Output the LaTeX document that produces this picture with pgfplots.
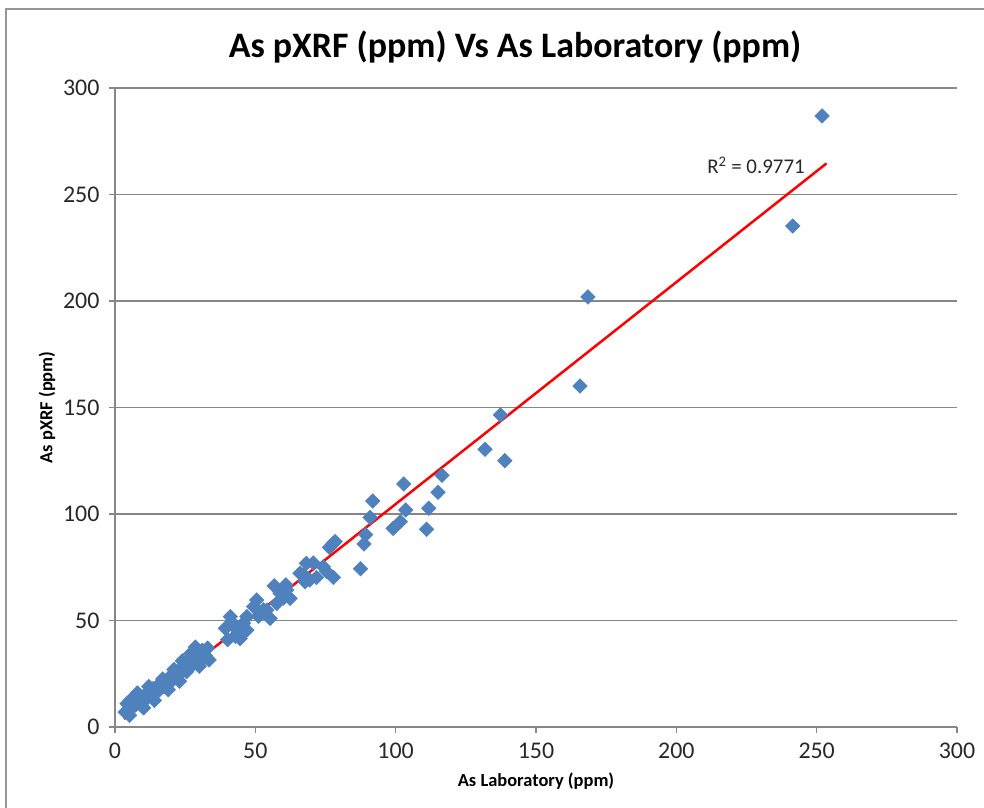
\documentclass[border=0pt]{standalone}
\usepackage{fontspec}
\setmainfont{Carlito}
\usepackage{pgfplots}
\pgfplotsset{compat=1.18}
\definecolor{xlblue}{RGB}{79,129,189}
\definecolor{xlgrid}{RGB}{134,134,134}
\definecolor{xlborder}{RGB}{150,150,150}
\definecolor{xltext}{RGB}{40,40,40}

\begin{document}
\begin{tikzpicture}[x=1bp,y=1bp]
\useasboundingbox (0,0) rectangle (984,808);
% chart border (only left and top edges fall inside the crop)
\draw[xlborder, line width=1.5bp] (6,-20) -- (6,799) -- (1000,799);
\node[font=\bfseries\fontsize{36}{42}\selectfont, text=black] at (515,761)
  {As pXRF (ppm) Vs As Laboratory (ppm)};
\begin{axis}[
    at={(115bp,81bp)}, anchor=south west,
    scale only axis, width=842bp, height=639bp,
    xmin=0, xmax=300, ymin=0, ymax=300,
    xtick={0,50,...,300}, ytick={0,50,...,300},
    axis x line=bottom, axis y line=left,
    axis line style={-, xlgrid, line width=1.5bp},
    ymajorgrids=true,
    grid style={xlgrid, line width=1.5bp},
    tick align=outside, major tick length=6bp,
    tick style={xlgrid, line width=1.5bp},
    /pgf/number format/assume math mode=true,
    ticklabel style={font=\fontsize{24}{28}\selectfont, text=xltext},
    xticklabel style={yshift=-6bp},
    yticklabel style={xshift=-6bp},
    xlabel={As Laboratory (ppm)},
    ylabel={As pXRF (ppm)},
    label style={font=\bfseries\fontsize{18.5}{22}\selectfont, text=black},
    xlabel style={at={(axis description cs:0.5,-0.085)}, anchor=center},
    ylabel style={at={(axis description cs:-0.0808,0.5)}, anchor=center},
    clip=false,
]
\addplot[only marks, mark=square*, mark size=5.2bp,
    mark options={rotate=45, fill=xlblue, draw=xlblue}]
coordinates {
(3.6,7.0)(4.3,11.0)(5.0,8.5)(5.5,12.5)(6.0,9.5)(6.8,12.0)(7.3,10.3)(7.8,13.2)
(8.5,11.5)(9.2,10.5)(9.8,14.0)(10.5,12.6)(11.0,15.5)(11.6,13.8)(12.3,16.8)
(13.0,14.5)(13.6,18.0)(14.3,16.2)(15.0,19.0)(15.8,17.4)(16.5,20.0)(17.5,19.0)
(18.5,21.5)(19.5,23.5)(20.5,22.0)(21.5,25.5)(22.5,24.0)(23.5,27.5)(24.0,31.0)
(24.8,28.5)(25.8,30.0)(26.8,32.0)(27.8,29.5)(28.6,37.5)(28.2,35.0)(29.6,34.0)
(30.4,30.5)(31.1,36.0)(32.2,33.5)(33.0,37.0)
(5.2,5.5)(8.0,16.0)(10.2,9.0)(12.0,19.0)(14.0,12.5)(17.0,22.5)(19.0,17.5)
(21.0,27.0)(23.0,21.5)(25.5,26.0)(27.0,34.5)(30.0,28.5)(33.5,31.5)
(39.3,46.3)(40.1,41.0)(41.1,51.8)(41.7,49.0)(42.9,42.5)(43.6,45.5)(44.6,41.5)
(45.8,48.7)(47.0,45.5)(47.0,51.8)(49.4,56.5)(50.5,59.6)(51.1,52.0)(52.3,53.4)
(52.9,55.0)(54.1,54.9)(55.3,51.0)(56.7,66.3)(57.6,58.0)(58.8,62.8)(60.0,60.5)
(60.9,66.7)(61.2,64.3)(62.4,60.4)
(65.9,72.2)(67.1,71.4)(67.7,68.2)(68.2,76.8)(69.4,69.0)(70.6,77.0)(71.8,70.2)
(74.2,75.2)(75.4,72.9)(76.4,84.3)(77.8,86.2)(78.4,87.0)(77.8,70.2)(87.5,74.3)
(88.7,85.9)(89.3,90.3)(90.9,98.4)(91.8,106.1)(99.1,93.2)(101.7,96.4)
(102.9,114.1)(103.6,101.9)(111.0,92.8)(111.8,102.7)(115.1,110.2)(116.5,118.2)
(131.8,130.4)(137.3,146.5)(138.9,125.0)(165.7,160.1)(168.5,201.9)
(241.5,235.2)(251.9,286.9)
};
\addplot[red, line width=2.5bp, no marks] coordinates {(3.2,3.8)(253.5,264.6)};
\node[font=\fontsize{21}{25}\selectfont, text=xltext] at (axis cs:228.4,263.8)
  {R\textsuperscript{2} = 0.9771};
\end{axis}
\end{tikzpicture}
\end{document}
